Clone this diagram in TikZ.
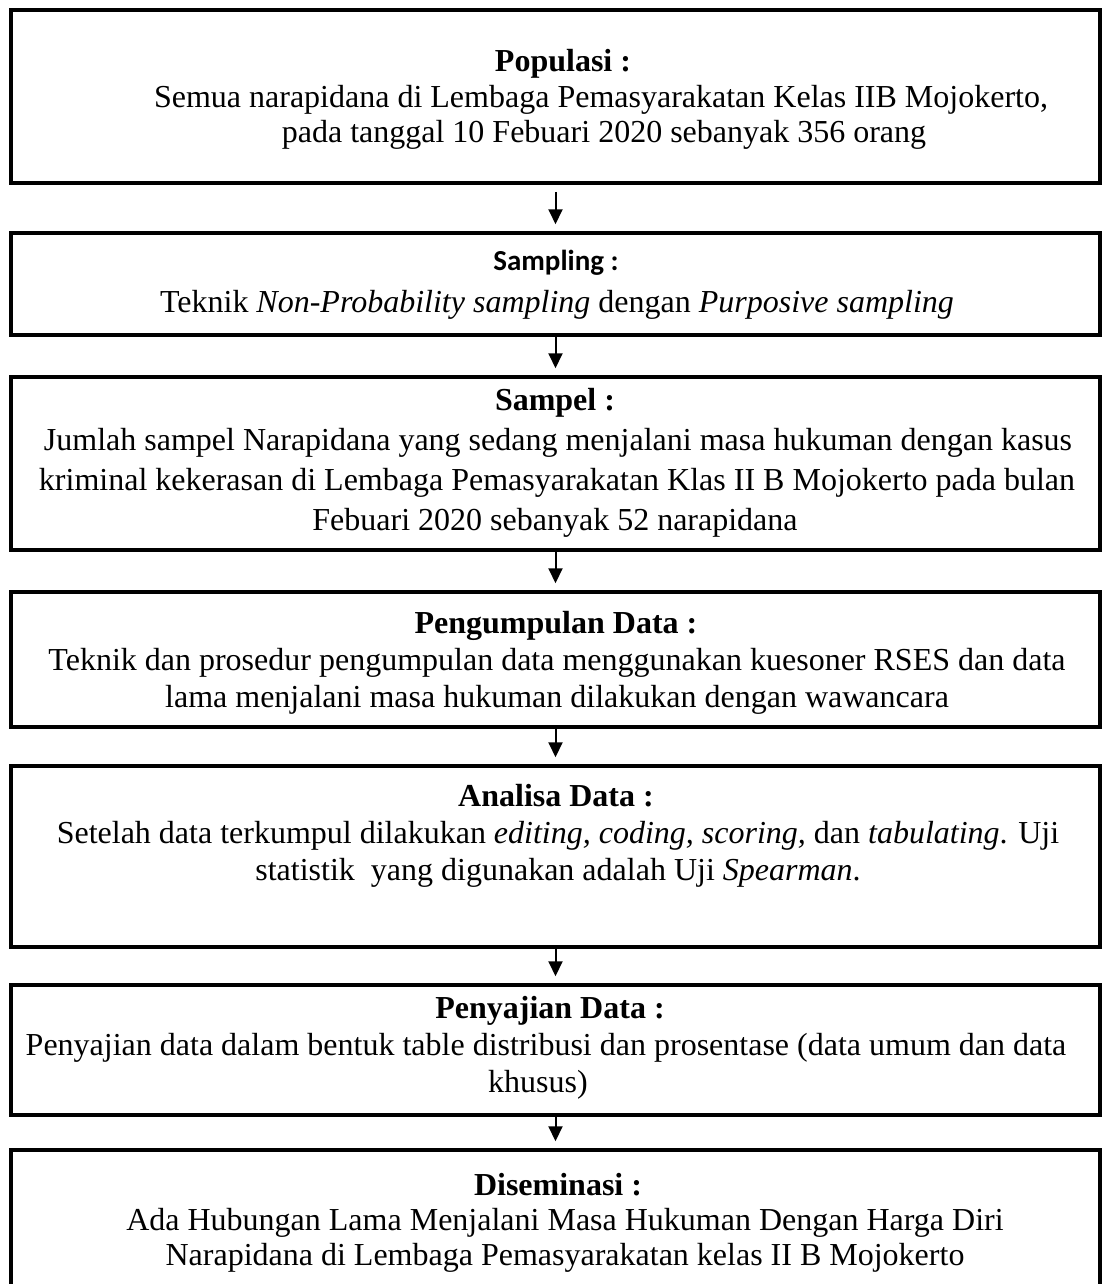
\documentclass[tikz,border=0pt]{standalone}
\usepackage{fontspec}
\setmainfont{Liberation Serif}
\newfontfamily\calibri{Carlito}
\usetikzlibrary{arrows.meta}

\begin{document}
\begin{tikzpicture}[x=1pt, y=-1pt,
  box/.style={draw, line width=3.5pt, minimum width=1089pt},
  head/.style={anchor=base, font=\fontsize{32}{37}\selectfont\bfseries},
  txt/.style={anchor=base, font=\fontsize{32}{37}\selectfont},
  arr/.style={line width=2pt, -{Triangle[width=14pt,length=15pt]}, shorten >=7pt}]
\useasboundingbox (0,0) rectangle (1103,1284);

% boxes
\node[box, line width=4pt, minimum height=173pt] (pop) at (555.5,96.5) {};
\node[box, minimum height=102pt] (smpl) at (555.5,284) {};
\node[box, minimum height=173pt] (sam) at (555.5,463.5) {};
\node[box, minimum height=135pt] (kumpul) at (555.5,659.5) {};
\node[box, minimum height=181pt] (analisa) at (555.5,856.5) {};
\node[box, minimum height=130pt] (saji) at (555.5,1050) {};
\node[box, minimum height=150pt] (sebar) at (555.5,1225) {};

% arrows
\draw[arr, shorten <=7pt] (pop) -- (smpl);
\draw[arr] (smpl) -- (sam);
\draw[arr] (sam) -- (kumpul);
\draw[arr] (kumpul) -- (analisa);
\draw[arr] (analisa) -- (saji);
\draw[arr] (saji) -- (sebar);

% Populasi
\node[head] (popH) at (563,72) {Populasi :};
\node[txt] (popA) at (601,108) {Semua narapidana di Lembaga Pemasyarakatan Kelas IIB Mojokerto,};
\node[txt] (popB) at (604,143) {pada tanggal 10 Febuari 2020 sebanyak 356 orang};

% Sampling
\node[head, font=\calibri\bfseries\fontsize{29}{34}\selectfont] (smplH) at (556,270) {Sampling :};
\node[txt] (smplA) at (557,312) {Teknik \textit{Non-Probability sampling} dengan \textit{Purposive sampling}};

% Sampel
\node[head] (samH) at (555,410) {Sampel :};
\node[txt] (samA) at (558,450) {Jumlah sampel Narapidana yang sedang menjalani masa hukuman dengan kasus};
\node[txt] (samB) at (557,490) {kriminal kekerasan di Lembaga Pemasyarakatan Klas II B Mojokerto pada bulan};
\node[txt] (samC) at (555,530) {Febuari 2020 sebanyak 52 narapidana};

% Pengumpulan data
\node[head] (kumpulH) at (556,633) {Pengumpulan Data :};
\node[txt] (kumpulA) at (557,670) {Teknik dan prosedur pengumpulan data menggunakan kuesoner RSES dan data};
\node[txt] (kumpulB) at (557,707) {lama menjalani masa hukuman dilakukan dengan wawancara};

% Analisa data
\node[head] (analisaH) at (556,806) {Analisa Data :};
\node[txt] (analisaA) at (558,843) {Setelah data terkumpul dilakukan \textit{editing, coding, scoring,} dan \textit{tabulating}. Uji};
\node[txt] (analisaB) at (558,880) {statistik\ \ yang digunakan adalah Uji \textit{Spearman}.};

% Penyajian data
\node[head] (sajiH) at (550,1018) {Penyajian Data :};
\node[txt] (sajiA) at (546,1055) {Penyajian data dalam bentuk table distribusi dan prosentase (data umum dan data};
\node[txt] (sajiB) at (538,1092) {khusus)};

% Diseminasi
\node[head] (sebarH) at (558,1195) {Diseminasi :};
\node[txt] (sebarA) at (565,1230) {Ada Hubungan Lama Menjalani Masa Hukuman Dengan Harga Diri};
\node[txt] (sebarB) at (565,1265) {Narapidana di Lembaga Pemasyarakatan kelas II B Mojokerto};
\end{tikzpicture}
\end{document}
